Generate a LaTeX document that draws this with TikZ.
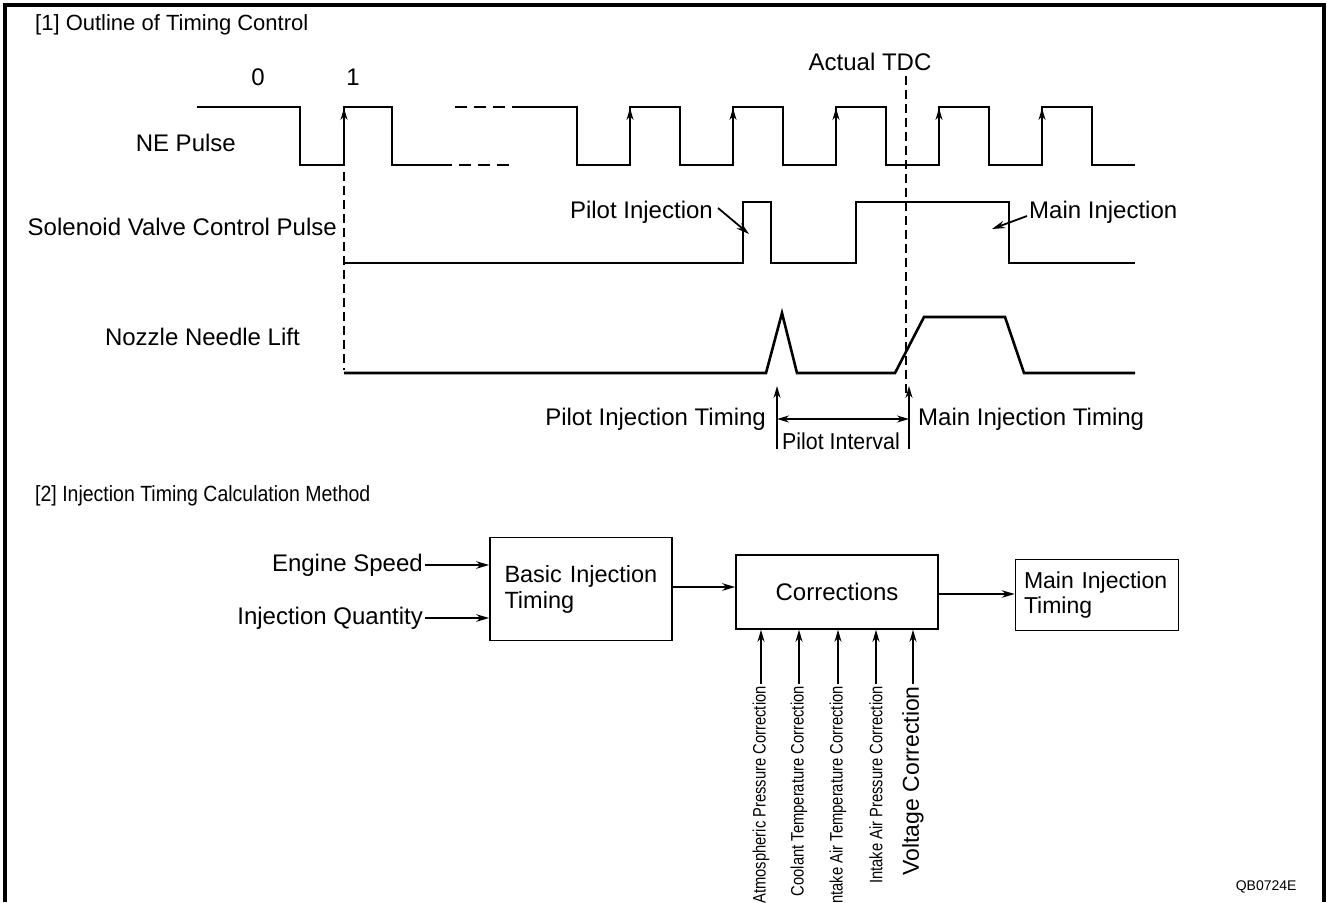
\documentclass[tikz,border=0pt]{standalone}
\usepackage{fontspec}
\setmainfont{Liberation Sans}
\usetikzlibrary{arrows.meta,positioning,calc}

\begin{document}
\begin{tikzpicture}[x=1pt,y=-1pt,
    lbl/.style={font=\fontsize{24}{27}\selectfont, inner sep=2pt},
    box/.style={rectangle, draw, line width=1.6pt, font=\fontsize{23.5}{26}\selectfont, align=left},
    wave/.style={line width=2.6pt},
    dashwave/.style={line width=2.6pt, dash pattern=on 12pt off 7pt},
    marker/.style={line width=2pt, dash pattern=on 9pt off 5pt},
    edgearrow/.style={line width=1.6pt, -{Stealth[length=12pt,width=7pt]}},
    flow/.style={line width=1.8pt, -{Stealth[length=13pt,width=7.5pt]}},
    corrlbl/.style={rotate=90, anchor=east, inner sep=2pt, font=\fontsize{18}{20}\selectfont}
]
    \useasboundingbox (0,0) rectangle (1327,902);
    \draw[line width=4pt] (5,902) -- (5,5) -- (1324,5) -- (1324,902);

    % [1] timing chart
    \node[lbl, anchor=west, font=\fontsize{22}{25}\selectfont] (title1) at (33,25) {[1] Outline of Timing Control};
    \node[lbl] (zero) at (258,77) {0};
    \node[lbl] (one) at (353,77) {1};
    \node[lbl] (tdc) at (870,62) {Actual TDC};
    \node[lbl, anchor=east] (ne) at (238,143) {NE Pulse};
    \node[lbl, anchor=east] (sol) at (339,227) {Solenoid Valve Control Pulse};
    \node[lbl, anchor=east] (lift) at (302,337) {Nozzle Needle Lift};

    \draw[wave] (197,107) -- (300,107) -- (300,165) -- (344,165) -- (344,107) -- (392,107) -- (392,165) -- (440,165);
    \draw[dashwave] (440,165) -- (512,165);
    \draw[dashwave] (455,107) -- (515,107);
    \draw[wave] (515,107) -- (577,107) -- (577,165) -- (630,165) -- (630,107) -- (680,107) -- (680,165)
        -- (733,165) -- (733,107) -- (783,107) -- (783,165) -- (836,165) -- (836,107) -- (886,107)
        -- (886,165) -- (939,165) -- (939,107) -- (989,107) -- (989,165) -- (1042,165) -- (1042,107)
        -- (1092,107) -- (1092,165) -- (1135,165);
    \draw[edgearrow] (344,150) -- (344,108);
    \draw[edgearrow] (630,150) -- (630,108);
    \draw[edgearrow] (733,150) -- (733,108);
    \draw[edgearrow] (836,150) -- (836,108);
    \draw[edgearrow] (939,150) -- (939,108);
    \draw[edgearrow] (1042,150) -- (1042,108);

    \draw[wave] (344,263) -- (743,263) -- (743,202) -- (771,202) -- (771,263) -- (856,263) -- (856,202)
        -- (1009,202) -- (1009,263) -- (1135,263);
    \draw[wave] (344,373) -- (766,373) -- (782,313) -- (797,373) -- (895,373) -- (924,317) -- (1005,317)
        -- (1024,373) -- (1135,373);

    \draw[marker] (344,172) -- (344,370);
    \draw[marker] (906,76) -- (906,396);

    \node[lbl, anchor=east] (pilot) at (715,212) {Pilot Injection};
    \node[lbl, anchor=west] (mainlbl) at (1027,212) {Main Injection};
    \coordinate (pilottip) at (749,234);
    \coordinate (maintip) at (992,229);
    \draw[flow] ([shift={(3pt,4pt)}]pilot.east) -- (pilottip);
    \draw[flow] ([yshift=-4pt]mainlbl.west) -- (maintip);

    \node[lbl, anchor=east] (pit) at (768,419) {Pilot Injection Timing};
    \node[lbl, anchor=west] (mit) at (916,419) {Main Injection Timing};
    \node[lbl, font=\fontsize{23}{25}\selectfont] (pint) at (841,441) {\scalebox{0.93}[1]{Pilot Interval}};
    \coordinate (pitbot) at (777,449);
    \coordinate (pittop) at (777,386);
    \coordinate (mitbot) at (909,449);
    \coordinate (mittop) at (909,386);
    \draw[edgearrow] (pitbot) -- (pittop);
    \draw[edgearrow] (mitbot) -- (mittop);
    \draw[line width=1.6pt, {Stealth[length=12pt,width=7pt]}-{Stealth[length=12pt,width=7pt]}] (pitbot |- pit.east) -- (mitbot |- mit.west);

    % [2] calculation method
    \node[lbl, anchor=west, font=\fontsize{22}{25}\selectfont] (title2) at (33,496) {\scalebox{0.886}[1]{[2] Injection Timing Calculation Method}};
    \node[box, minimum width=182pt, minimum height=103pt, text width=153pt] (basic) at (581,589) {Basic Injection\\Timing};
    \node[box, minimum width=202pt, minimum height=74pt, align=center, font=\fontsize{24}{27}\selectfont] (corr) at (837,592) {Corrections};
    \node[box, minimum width=163pt, minimum height=71pt, text width=146pt, inner xsep=8pt, font=\fontsize{23}{25}\selectfont] (mainbox) at (1097,595) {Main Injection\\Timing};
    \node[lbl, anchor=east] (speed) at (425,565) {Engine Speed};
    \node[lbl, anchor=east] (qty) at (425,618) {Injection Quantity};

    \draw[flow] (speed.east) -- (speed.east -| basic.west);
    \draw[flow] (qty.east) -- (qty.east -| basic.west);
    \draw[flow] ([yshift=2pt]basic.east) -- ([yshift=2pt]basic.east -| corr.west);
    \draw[flow] ([yshift=-2pt]corr.east) -- ([yshift=-2pt]corr.east -| mainbox.west);

    \node[corrlbl] (atm) at (761,684) {\scalebox{0.82}[1]{Atmospheric Pressure Correction}};
    \node[corrlbl] (cool) at (799,684) {\scalebox{0.82}[1]{Coolant Temperature Correction}};
    \node[corrlbl] (iat) at (838,684) {\scalebox{0.82}[1]{Intake Air Temperature Correction}};
    \node[corrlbl] (iap) at (876,684) {\scalebox{0.82}[1]{Intake Air Pressure Correction}};
    \node[corrlbl, font=\fontsize{23}{25}\selectfont] (volt) at (913,684) {Voltage Correction};
    \draw[edgearrow] (atm.east) -- (atm.east |- corr.south);
    \draw[edgearrow] (cool.east) -- (cool.east |- corr.south);
    \draw[edgearrow] (iat.east) -- (iat.east |- corr.south);
    \draw[edgearrow] (iap.east) -- (iap.east |- corr.south);
    \draw[edgearrow] (volt.east) -- (volt.east |- corr.south);

    \node[font=\fontsize{14}{16}\selectfont, anchor=east] (code) at (1300,887) {QB0724E};
\end{tikzpicture}
\end{document}
